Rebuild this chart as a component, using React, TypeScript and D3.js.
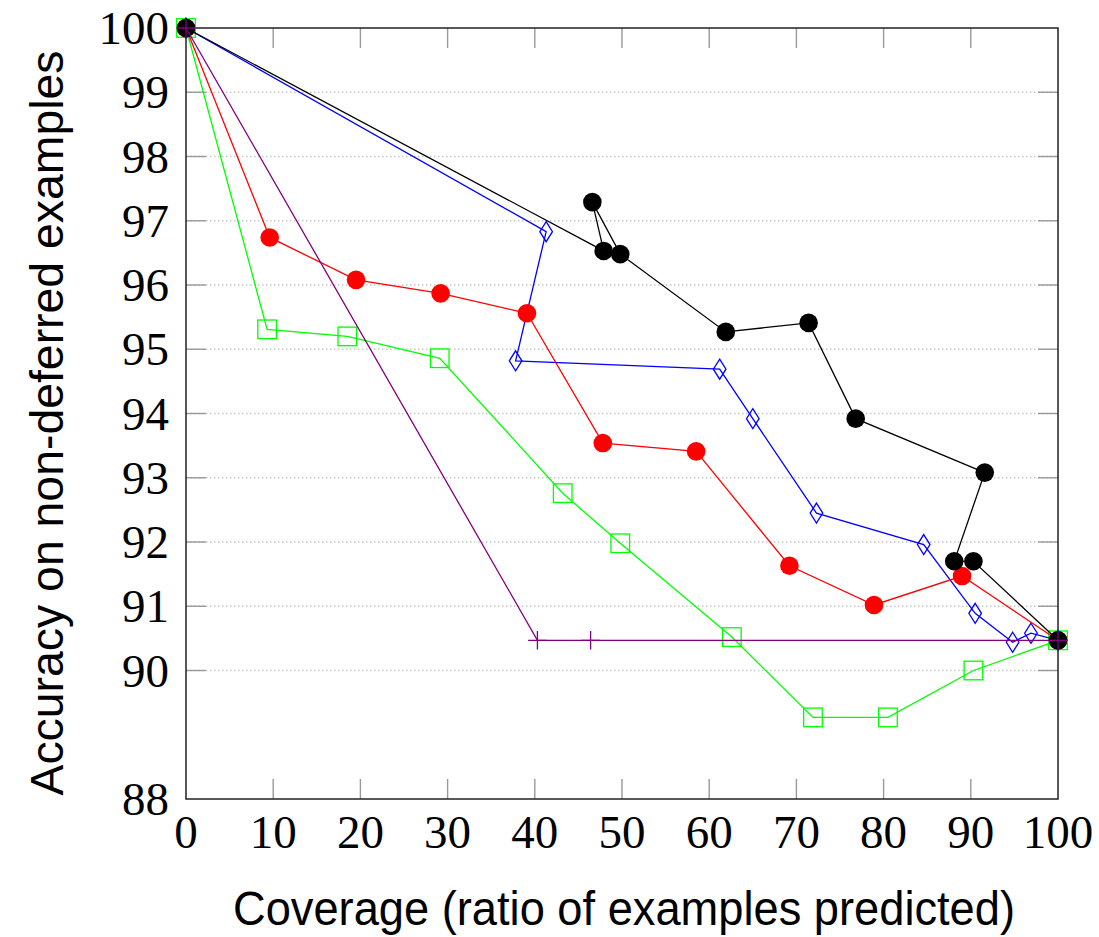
import React, { useEffect, useRef } from "react";
import * as d3 from "d3";

// coverage (%) and accuracy (%) for each method
const blackX = [0, 47.9, 46.6, 49.8, 61.9, 71.4, 76.8, 91.6, 88.1, 90.3, 100];
const blackY = [100, 96.53, 97.29, 96.48, 95.27, 95.41, 93.92, 93.08, 91.7, 91.7, 90.47];

const redX = [0, 9.6, 19.5, 29.2, 39.1, 47.8, 58.5, 69.2, 78.9, 89.0, 100];
const redY = [100, 96.74, 96.08, 95.87, 95.56, 93.54, 93.41, 91.63, 91.02, 91.47, 90.47];

const blueX = [0, 41.3, 37.8, 61.2, 65.0, 72.3, 84.6, 90.5, 94.8, 96.9, 100];
const blueY = [100, 96.83, 94.82, 94.69, 93.92, 92.45, 91.96, 90.89, 90.44, 90.58, 90.47];

const greenX = [0, 9.3, 18.5, 29.1, 43.2, 49.8, 62.6, 71.9, 80.5, 90.3, 100];
const greenY = [100, 95.31, 95.2, 94.86, 92.76, 91.98, 90.52, 89.27, 89.27, 90.0, 90.47];

const purpleX = [0, 40.3, 46.4, 100];
const purpleY = [100, 90.47, 90.47, 90.47];

const xTicks = [0, 10, 20, 30, 40, 50, 60, 70, 80, 90, 100];
const yTicks = [88, 90, 91, 92, 93, 94, 95, 96, 97, 98, 99, 100];
const yGrid = [90, 91, 92, 93, 94, 95, 96, 97, 98, 99];

const xLabel = "Coverage (ratio of examples predicted)";
const yLabel = "Accuracy on non-deferred examples";

const App = () => {
  const svgRef = useRef<SVGSVGElement | null>(null);

  useEffect(() => {
    const width = 1099;
    const height = 937;
    const margin = { top: 28, right: 41, bottom: 138, left: 186 };

    const svg = d3.select(svgRef.current);
    svg.selectAll("*").remove();
    svg.attr("width", width).attr("height", height);

    const x = d3
      .scaleLinear()
      .domain([0, 100])
      .range([margin.left, width - margin.right]);
    const y = d3
      .scaleLinear()
      .domain([88, 100])
      .range([height - margin.bottom, margin.top]);

    const x0 = x(0), x1 = x(100), y0 = y(88), y1 = y(100);

    // grid
    svg
      .append("g")
      .selectAll("line")
      .data(yGrid)
      .enter()
      .append("line")
      .attr("x1", x0)
      .attr("x2", x1)
      .attr("y1", (d) => y(d))
      .attr("y2", (d) => y(d))
      .attr("stroke", "#c8c8c8")
      .attr("stroke-width", 1.3)
      .attr("stroke-dasharray", "1.5,2.5");

    // ticks (inward, on all four sides)
    const tickLen = 20;
    const tg = svg.append("g").attr("stroke", "#999").attr("stroke-width", 1.4);
    xTicks.slice(1, -1).forEach((t) => {
      tg.append("line").attr("x1", x(t)).attr("x2", x(t)).attr("y1", y0).attr("y2", y0 - tickLen);
      tg.append("line").attr("x1", x(t)).attr("x2", x(t)).attr("y1", y1).attr("y2", y1 + tickLen);
    });
    yTicks.slice(1, -1).forEach((t) => {
      tg.append("line").attr("x1", x0).attr("x2", x0 + tickLen).attr("y1", y(t)).attr("y2", y(t));
      tg.append("line").attr("x1", x1).attr("x2", x1 - tickLen).attr("y1", y(t)).attr("y2", y(t));
    });

    // frame
    svg
      .append("rect")
      .attr("x", x0)
      .attr("y", y1)
      .attr("width", x1 - x0)
      .attr("height", y0 - y1)
      .attr("fill", "none")
      .attr("stroke", "#222")
      .attr("stroke-width", 1.5);

    // tick labels
    const tickFont = "'Liberation Serif', 'DejaVu Serif', serif";
    svg
      .append("g")
      .selectAll("text")
      .data(xTicks)
      .enter()
      .append("text")
      .attr("x", (d) => x(d))
      .attr("y", 848)
      .attr("text-anchor", "middle")
      .attr("font-family", tickFont)
      .attr("font-size", 47)
      .text((d) => d);

    svg
      .append("g")
      .selectAll("text")
      .data(yTicks)
      .enter()
      .append("text")
      .attr("x", 169)
      .attr("y", (d) => y(d) + 16)
      .attr("text-anchor", "end")
      .attr("font-family", tickFont)
      .attr("font-size", 47)
      .text((d) => d);

    // axis labels
    const labelFont = "'Liberation Sans', 'DejaVu Sans', sans-serif";
    svg
      .append("text")
      .attr("x", 624)
      .attr("y", 925)
      .attr("text-anchor", "middle")
      .attr("font-family", labelFont)
      .attr("font-size", 48)
      .attr("textLength", 782)
      .attr("lengthAdjust", "spacingAndGlyphs")
      .text(xLabel);

    svg
      .append("text")
      .attr("transform", `translate(63,423) rotate(-90)`)
      .attr("text-anchor", "middle")
      .attr("font-family", labelFont)
      .attr("font-size", 47)
      .attr("textLength", 745)
      .attr("lengthAdjust", "spacingAndGlyphs")
      .text(yLabel);

    const line = d3
      .line<[number, number]>()
      .x((d) => x(d[0]))
      .y((d) => y(d[1]));

    const zip = (xs: number[], ys: number[]) =>
      xs.map((v, i) => [v, ys[i]] as [number, number]);

    const series = [
      { pts: zip(greenX, greenY), color: "#00ff00", mark: "square" },
      { pts: zip(blueX, blueY), color: "#0000ff", mark: "diamond" },
      { pts: zip(redX, redY), color: "#ff0000", mark: "circle" },
      { pts: zip(blackX, blackY), color: "#000000", mark: "circle" },
      { pts: zip(purpleX, purpleY), color: "#800080", mark: "plus" },
    ];

    const r = 9.3;
    series.forEach((s) => {
      const g = svg.append("g");
      g.append("path")
        .attr("d", line(s.pts))
        .attr("fill", "none")
        .attr("stroke", s.color)
        .attr("stroke-width", 1.3);

      s.pts.forEach(([px, py]) => {
        const cx = x(px), cy = y(py);
        if (s.mark === "circle") {
          g.append("circle").attr("cx", cx).attr("cy", cy).attr("r", r).attr("fill", s.color);
        } else if (s.mark === "square") {
          g.append("rect")
            .attr("x", cx - r)
            .attr("y", cy - r)
            .attr("width", 2 * r)
            .attr("height", 2 * r)
            .attr("fill", "none")
            .attr("stroke", s.color)
            .attr("stroke-width", 1.3);
        } else if (s.mark === "diamond") {
          const w = 6.3, h = 10;
          g.append("path")
            .attr("d", `M${cx},${cy - h}L${cx + w},${cy}L${cx},${cy + h}L${cx - w},${cy}Z`)
            .attr("fill", "none")
            .attr("stroke", s.color)
            .attr("stroke-width", 1.3);
        } else {
          g.append("path")
            .attr("d", `M${cx - r},${cy}H${cx + r}M${cx},${cy - r}V${cy + r}`)
            .attr("stroke", s.color)
            .attr("stroke-width", 1.3);
        }
      });
    });
  }, []);

  return <svg ref={svgRef} style={{ position: "absolute", left: 0, top: 0 }} />;
};

export default App;
